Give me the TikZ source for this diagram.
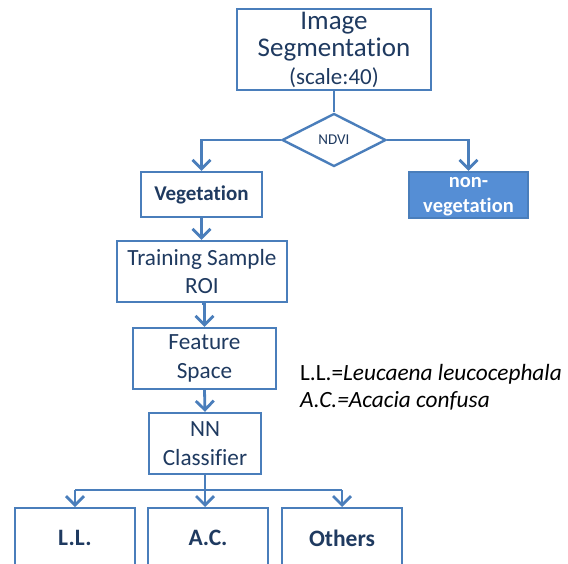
\documentclass[tikz,border=0pt]{standalone}
\usepackage{fontspec}
\setmainfont[Ligatures=NoCommon]{Carlito}
\usetikzlibrary{shapes.geometric,arrows.meta}
\definecolor{edge}{HTML}{4A7EBB}
\definecolor{txt}{HTML}{1F3A60}
\definecolor{fillb}{HTML}{558ED5}
\tikzset{
  box/.style={draw=edge,line width=2.4pt,fill=white,text=txt,align=center,inner sep=0pt},
  conn/.style={draw=edge,line width=2.8pt},
  arr/.style={conn,-{Straight Barb[length=9pt,width=18pt]}},
}
\begin{document}
\begin{tikzpicture}[x=1pt,y=-1pt]
\useasboundingbox (0,0) rectangle (568,564);
\clip (0,0) rectangle (568,564);
\node[box,minimum width=194pt,minimum height=81pt,font=\fontsize{27}{27.5}\selectfont] (seg) at (334,49.5)
  {Image\\Segmentation\\{\fontsize{23}{27.5}\selectfont (scale:40)}};
\node[box,diamond,shape aspect=1.96,minimum width=104pt,minimum height=53pt,font=\fontsize{15}{17}\selectfont] (ndvi) at (334,140)
  {NDVI};
\node[box,minimum width=121pt,minimum height=45pt,font=\fontsize{21}{24}\selectfont\bfseries] (veg) at (201.5,194.5)
  {Vegetation};
\node[box,fill=fillb,text=white,minimum width=119pt,minimum height=46pt] (nonveg) at (468.5,195) {};
\node[text=white,align=center,font=\fontsize{20.5}{25}\selectfont\bfseries] (nvlab) at (468.5,197) {non-\\vegetation};
\node[box,minimum width=170pt,minimum height=61pt,font=\fontsize{23.2}{28}\selectfont] (train) at (202,271.5)
  {Training Sample\\ROI};
\node[box,minimum width=143pt,minimum height=61pt,font=\fontsize{23.2}{29}\selectfont] (feat) at (204.5,358.5)
  {Feature\\Space};
\node[box,minimum width=112pt,minimum height=61pt,font=\fontsize{23.2}{28.5}\selectfont] (nn) at (205,443.5)
  {NN\\Classifier};
\node[box,anchor=north,minimum width=120pt,minimum height=70pt] (ll) at (75,507) {};
\node[box,anchor=north,minimum width=120pt,minimum height=70pt] (ac) at (208,507) {};
\node[box,anchor=north,minimum width=120pt,minimum height=70pt] (oth) at (342,507) {};
\node[text=txt,font=\fontsize{23.5}{26}\selectfont\bfseries] (lllab) at (75,538) {L.L.};
\node[text=txt,font=\fontsize{23.5}{26}\selectfont\bfseries] (aclab) at (208,538) {A.C.};
\node[text=txt,font=\fontsize{23.5}{26}\selectfont\bfseries] (othlab) at (342,538) {Others};
\node[anchor=west,inner sep=0pt,font=\fontsize{23.3}{26}\selectfont] (leg1) at (300,374) {L.L.=\textit{Leucaena leucocephala}};
\node[anchor=west,inner sep=0pt,font=\fontsize{23.3}{26}\selectfont] (leg2) at (300,401) {\textit{A.C.=Acacia confusa}};
% connectors
\draw[conn] (seg.south) -- (ndvi.north);
\draw[arr] (ndvi.west) -| (veg.north);
\draw[arr] (ndvi.east) -| (nonveg.north);
\draw[arr] (veg.south) -- (veg.south |- train.north);
\draw[arr] (train.south) -- (train.south -| feat.north) -- (feat.north);
\draw[arr] (feat.south) -- (nn.north);
\coordinate (br) at (205,490);
\draw[conn] (nn.south) -- (br);
\draw[conn,line cap=butt] (ll.north |- br) -- (oth.north |- br);
\draw[arr] (ll.north |- br) -- (ll.north);
\draw[arr] (br) -- (ac.north -| br);
\draw[arr] (oth.north |- br) -- (oth.north);
\end{tikzpicture}
\end{document}
